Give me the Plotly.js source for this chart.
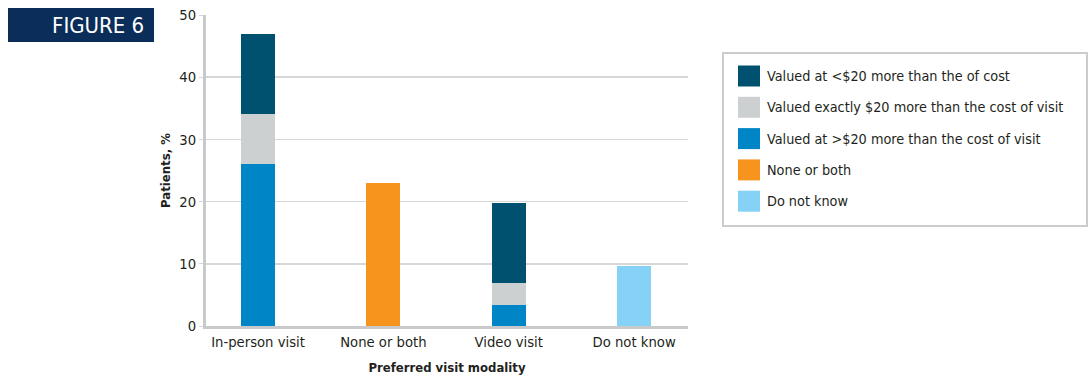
<!DOCTYPE html>
<html>
<head>
<meta charset="utf-8">
<script src="https://cdn.plot.ly/plotly-3.0.1.min.js"></script>
<style>
  html, body { margin: 0; padding: 0; background: #ffffff; }
  #chart { width: 1092px; height: 377px; }
</style>
</head>
<body>
<div id="chart"></div>
<script>
// ---- Data ----
const categories = ["In-person visit", "None or both", "Video visit", "Do not know"];
const seriesNames = [
  "Valued at >$20 more than the cost of visit",
  "Valued exactly $20 more than the cost of visit",
  "Valued at <$20 more than the of cost",
  "None or both",
  "Do not know"
];
const valuedMore = [26.0, null, 3.4, null];      // >$20
const valuedExactly = [8.1, null, 3.5, null];    // exactly $20
const valuedLess = [12.8, null, 12.8, null];     // <$20
const noneOrBoth = [null, 23.0, null, null];
const doNotKnow = [null, null, null, 9.7];
const yTicks = [0, 10, 20, 30, 40, 50];

// ---- Styles ----
const colors = ["#0086c6", "#cdd0d1", "#00506f", "#f7941e", "#86d2f6"];
const FONT = "'Liberation Sans Narrow', 'DejaVu Sans Condensed', 'Roboto', sans-serif";
const TXT = "#231f20";
const seriesValues = [valuedMore, valuedExactly, valuedLess, noneOrBoth, doNotKnow];

const traces = seriesValues.map((vals, i) => ({
  type: "bar",
  x: categories,
  y: vals,
  name: seriesNames[i],
  width: 0.27,
  marker: { color: colors[i], line: { width: 0 } },
  showlegend: false,
  hoverinfo: "y+name"
}));

// Plot area in pixels
const W = 1092, H = 377;
const L = 206, R = 688, T = 15, B = 326;
const pw = R - L, ph = B - T;
const px = v => (v - L) / pw;
const py = v => (B - v) / ph;

// Manual legend (order as in reference: top to bottom)
const legendOrder = [2, 1, 0, 3, 4];
const shapes = [
  { type: "rect", xref: "paper", yref: "paper",
    x0: px(723), x1: px(1087), y0: py(226), y1: py(53),
    line: { color: "#cccccc", width: 2 }, fillcolor: "rgba(0,0,0,0)" },
  { type: "rect", xref: "paper", yref: "paper",
    x0: px(8), x1: px(154), y0: py(42), y1: py(8),
    line: { width: 0 }, fillcolor: "#0b2d59" }
];
const annotations = [
  { xref: "paper", yref: "paper", x: px(146), y: py(25), xanchor: "right", yanchor: "middle",
    text: "FIGURE 6", showarrow: false, font: { family: FONT, size: 22, color: "#ffffff" } }
];
legendOrder.forEach((s, k) => {
  const top = 65.5 + k * 31.3;
  shapes.push({ type: "rect", xref: "paper", yref: "paper",
    x0: px(738), x1: px(760), y0: py(top + 21), y1: py(top),
    line: { width: 0 }, fillcolor: colors[s] });
  annotations.push({ xref: "paper", yref: "paper", x: px(765), y: py(top + 10.5),
    xanchor: "left", yanchor: "middle", text: seriesNames[s], showarrow: false,
    font: { family: FONT, size: 14.3, color: TXT } });
});

const layout = {
  width: W, height: H,
  margin: { l: L, r: W - R, t: T, b: H - B, pad: 0 },
  paper_bgcolor: "#ffffff", plot_bgcolor: "#ffffff",
  barmode: "stack",
  bargap: 0,
  showlegend: false,
  font: { family: FONT, size: 15, color: TXT },
  xaxis: {
    type: "category",
    categoryorder: "array", categoryarray: categories,
    range: [-0.415, 3.43],
    showline: true, linecolor: "#c8c9ca", linewidth: 3,
    showgrid: false, zeroline: false,
    ticks: "", ticklen: 0,
    tickfont: { family: FONT, size: 14.7, color: TXT },
    title: { text: "<b>Preferred visit modality</b>", standoff: 15,
             font: { family: FONT, size: 13, color: TXT } }
  },
  yaxis: {
    range: [0, 50],
    tickvals: yTicks,
    showline: true, linecolor: "#c8c9ca", linewidth: 3,
    showgrid: true, gridcolor: "#d6d7d8", gridwidth: 1.5,
    zeroline: false,
    ticks: "outside", ticklen: 4, tickcolor: "#d6d7d8",
    tickfont: { family: FONT, size: 14.7, color: TXT },
    title: { text: "<b>Patients, %</b>", standoff: 6,
             font: { family: FONT, size: 13, color: TXT } }
  },
  shapes: shapes,
  annotations: annotations
};

Plotly.newPlot("chart", traces, layout, { displayModeBar: false, staticPlot: true });
</script>
</body>
</html>
